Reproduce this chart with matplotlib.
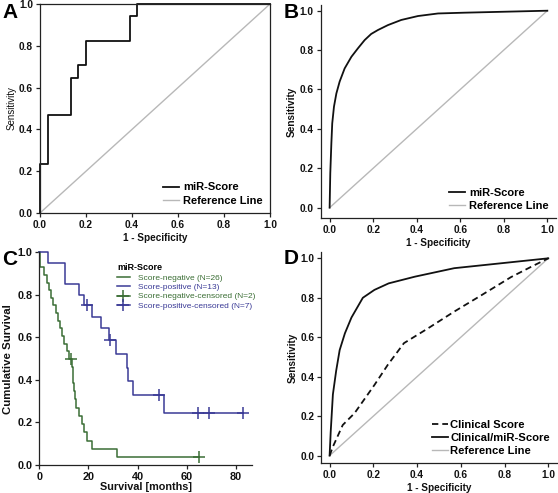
import numpy as np
import matplotlib
matplotlib.use('Agg')
import matplotlib.pyplot as plt

plt.rcParams['font.family'] = ['Liberation Sans', 'DejaVu Sans']

# panel A: step ROC
a_fpr = [0, 0, 0.033, 0.133, 0.167, 0.2, 0.39, 0.423, 1.0]
a_tpr = [0, 0.235, 0.47, 0.647, 0.706, 0.824, 0.941, 1.0, 1.0]

# panel B: smooth ROC
b_fpr = [0, 0.003, 0.008, 0.012, 0.02, 0.031, 0.046, 0.069, 0.1, 0.13, 0.161, 0.191,
         0.222, 0.268, 0.329, 0.406, 0.498, 0.62, 1.0]
b_tpr = [0, 0.174, 0.327, 0.428, 0.513, 0.58, 0.64, 0.707, 0.766, 0.809, 0.851, 0.882,
         0.902, 0.927, 0.953, 0.973, 0.986, 0.99, 1.0]

# panel C: Kaplan-Meier
neg_t = [0, 0.3, 1.9, 3.0, 4.1, 4.8, 5.7, 6.7, 7.7, 8.4, 9.2, 10.0, 11.1, 12.2, 13.2, 13.5,
         13.8, 14.1, 14.4, 14.8, 16.3, 17.2, 18.2, 19.2, 21.5, 31.7, 65.0]
neg_s = [1.0, 0.929, 0.893, 0.857, 0.821, 0.786, 0.75, 0.714, 0.679, 0.643, 0.607, 0.571,
         0.536, 0.5, 0.462, 0.423, 0.385, 0.346, 0.308, 0.269, 0.231, 0.192, 0.154, 0.115,
         0.077, 0.038, 0.038]
neg_cens_t = [12.7, 65.0]
neg_cens_s = [0.5, 0.038]
pos_t = [0, 3.4, 10.3, 16.3, 18.3, 21.3, 25.0, 28.4, 31.2, 35.6, 36.2, 38.2, 50.6, 83.0]
pos_s = [1.0, 0.95, 0.85, 0.80, 0.75, 0.696, 0.643, 0.589, 0.524, 0.458, 0.393, 0.327,
         0.245, 0.245]
pos_cens_t = [19.2, 28.8, 48.7, 64.5, 69.0, 83.0]
pos_cens_s = [0.75, 0.589, 0.327, 0.245, 0.245, 0.245]

# panel D: two ROC curves
d_fpr_comb = [0, 0.005, 0.015, 0.03, 0.046, 0.07, 0.1, 0.152, 0.205, 0.27, 0.39, 0.57, 1.0]
d_tpr_comb = [0, 0.12, 0.31, 0.43, 0.535, 0.62, 0.70, 0.80, 0.84, 0.873, 0.907, 0.95, 1.0]
d_fpr_clin = [0, 0.015, 0.06, 0.114, 0.205, 0.266, 0.34, 0.45, 0.57, 0.69, 0.83, 0.92, 1.0]
d_tpr_clin = [0, 0.045, 0.155, 0.215, 0.358, 0.46, 0.57, 0.645, 0.73, 0.81, 0.905, 0.956, 1.0]

ticks01 = [0.0, 0.2, 0.4, 0.6, 0.8, 1.0]
tick_lbl = ['0.0', '0.2', '0.4', '0.6', '0.8', '1.0']

W, H = 558, 493
fig = plt.figure(figsize=(W / 100, H / 100), dpi=100)


def px_axes(x0, y0, x1, y1):
    # pixel box (left, top, right, bottom) -> figure axes
    return fig.add_axes([x0 / W, 1 - y1 / H, (x1 - x0) / W, (y1 - y0) / H])


def style(ax, box=False, size=7.3):
    for s in ['top', 'right']:
        ax.spines[s].set_visible(box)
    for s in ax.spines.values():
        s.set_color('#222222')
        s.set_linewidth(0.9)
    ax.tick_params(direction='out', length=3, width=0.9, pad=2, colors='#222222',
                   labelsize=size)
    for lab in ax.get_xticklabels() + ax.get_yticklabels():
        lab.set_fontweight('bold')
        lab.set_color('#111111')


ref_col = '#b8b8b8'
lbl = dict(fontsize=7.2, fontweight='bold', color='#111111')
leg_kw = dict(loc='lower right', frameon=False, handlelength=1.4, handletextpad=0.4,
              labelspacing=0.3, borderaxespad=0.25, prop=dict(weight='bold', size=8))

# ---- A
ax = px_axes(40, 4, 270, 213)
ax.plot([0, 1], [0, 1], color=ref_col, lw=1, label='Reference Line')
ax.step(a_fpr, a_tpr, where='post', color='#111111', lw=1.3, label='miR-Score', clip_on=False)
ax.set_xlim(0, 1)
ax.set_ylim(0, 1)
ax.set_xticks(ticks01, tick_lbl)
ax.set_yticks(ticks01, tick_lbl)
style(ax, box=True)
ax.set_xlabel('1 - Specificity', labelpad=2, **lbl)
ax.set_ylabel('Sensitivity', labelpad=2, fontsize=7, color='#111111')
h, l = ax.get_legend_handles_labels()
ax.legend(h[::-1], l[::-1], **leg_kw)
fig.text(2 / W, 1 - 18 / H, 'A', fontsize=15, fontweight='bold')

# ---- B
ax = px_axes(320.7, 4.8, 556, 218.3)
ax.plot([0, 1], [0, 1], color=ref_col, lw=1, label='Reference Line')
ax.plot(b_fpr, b_tpr, color='#111111', lw=1.3, label='miR-Score')
ax.set_xlim(-0.041, 1.04)
ax.set_ylim(-0.054, 1.03)
ax.set_xticks(ticks01, tick_lbl)
ax.set_yticks(ticks01, tick_lbl)
style(ax)
ax.set_xlabel('1 - Specificity', labelpad=2, **lbl)
ax.set_ylabel('Sensitivity', labelpad=2, **lbl)
h, l = ax.get_legend_handles_labels()
ax.legend(h[::-1], l[::-1], **leg_kw)
fig.text(284 / W, 1 - 18 / H, 'B', fontsize=15, fontweight='bold')

# ---- C
green = '#3b6e35'
blue = '#3a3a96'
ax = px_axes(39.3, 252.3, 252.3, 465)
ax.step(neg_t, neg_s, where='post', color=green, lw=1.1, clip_on=False)
ax.step(pos_t, pos_s, where='post', color=blue, lw=1.1, clip_on=False)
ax.plot(neg_cens_t, neg_cens_s, ls='none', marker='+', ms=8, mew=1.1, color=green, clip_on=False)
ax.plot(pos_cens_t, pos_cens_s, ls='none', marker='+', ms=8, mew=1.1, color=blue, clip_on=False)
ax.set_xlim(0, 86.6)
ax.set_ylim(0, 1.0)
ax.set_xticks([0, 20, 40, 60, 80])
ax.set_yticks(ticks01, tick_lbl)
style(ax, size=7.8)
ax.set_xlabel('Survival [months]', labelpad=0, fontsize=7.8, fontweight='bold', color='#111111')
ax.set_ylabel('Cumulative Survival', labelpad=3, fontsize=8.2, fontweight='bold', color='#111111')
hl = [plt.Line2D([], [], color=green, lw=1.1),
      plt.Line2D([], [], color=blue, lw=1.1),
      plt.Line2D([], [], color=green, lw=1.1, marker='+', ms=8, mew=1.1),
      plt.Line2D([], [], color=blue, lw=1.1, marker='+', ms=8, mew=1.1)]
names = ['Score-negative (N=26)', 'Score-positive (N=13)',
         'Score-negative-censored (N=2)', 'Score-positive-censored (N=7)']
leg = ax.legend(hl, names, title='miR-Score', loc='upper left',
                bbox_to_anchor=((117 - 39.3) / 213, (465 - 263) / 212.7),
                frameon=False, handlelength=1.5, handletextpad=1.0, labelspacing=0.2,
                borderaxespad=0, borderpad=0, fontsize=6.0)
leg.get_title().set_fontweight('bold')
leg.get_title().set_fontsize(6.5)
leg._legend_box.align = 'left'
for t, c in zip(leg.get_texts(), [green, blue, green, blue]):
    t.set_color(c)
fig.text(2 / W, 1 - 265 / H, 'C', fontsize=15, fontweight='bold')

# ---- D
ax = px_axes(321.3, 252.4, 557, 463.3)
ax.plot([0, 1], [0, 1], color=ref_col, lw=1, label='Reference Line')
ax.plot(d_fpr_comb, d_tpr_comb, color='#111111', lw=1.3, label='Clinical/miR-Score')
ax.plot(d_fpr_clin, d_tpr_clin, color='#111111', lw=1.3, ls=(0, (3.5, 2.2)), label='Clinical Score')
ax.set_xlim(-0.038, 1.04)
ax.set_ylim(-0.039, 1.03)
ax.set_xticks(ticks01, tick_lbl)
ax.set_yticks(ticks01, tick_lbl)
style(ax)
ax.set_xlabel('1 - Specificity', labelpad=2, **lbl)
ax.set_ylabel('Sensitivity', labelpad=2, **lbl)
h, l = ax.get_legend_handles_labels()
ax.legend(h[::-1], l[::-1], loc='lower right', frameon=False, handlelength=1.5,
          handletextpad=0.15, labelspacing=0.25, borderaxespad=0.25,
          prop=dict(weight='bold', size=8.1))
fig.text(284 / W, 1 - 264 / H, 'D', fontsize=15, fontweight='bold')

fig.savefig('out.png', dpi=100)
